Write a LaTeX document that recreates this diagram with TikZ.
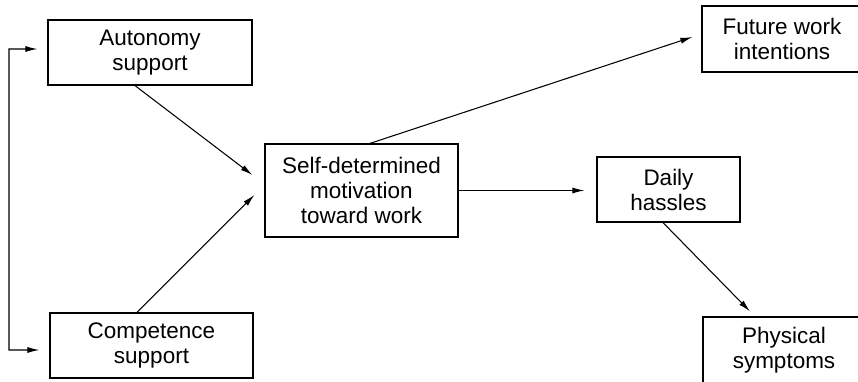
\documentclass[tikz,border=0pt]{standalone}
\usepackage{fontspec}
\setmainfont{Liberation Sans}
\usetikzlibrary{arrows.meta,positioning,calc}

\begin{document}
\begin{tikzpicture}[
    x=0.2mm, y=-0.2mm,
    box/.style={rectangle, draw, line width=0.7pt, minimum height=13mm, align=center, font=\fontsize{12.8}{14.2}\selectfont, inner sep=0pt},
    arr/.style={-{Latex[length=2.4mm,width=1.2mm]}, line width=0.6pt},
]
    \useasboundingbox (0,0) rectangle (858,382);
    \clip (0,0) rectangle (858,382);
    \node[box, minimum width=40.8mm] (auto) at (150,52.5) {Autonomy\\support};
    \node[box, minimum width=40.6mm] (comp) at (151.5,345.5) {Competence\\support};
    \node[box, minimum width=38.6mm, minimum height=18.6mm] (sdm) at (361.5,190.5) {Self-determined\\motivation\\toward work};
    \node[box, minimum width=28.6mm] (daily) at (668.5,189.5) {Daily\\hassles};
    \node[box, minimum width=32mm, minimum height=13.2mm] (future) at (782,39) {Future work\\intentions};
    \node[box, minimum width=32.4mm, minimum height=13.2mm] (phys) at (784,350) {Physical\\symptoms};
    % free ends of the bracket on the left
    \coordinate (lt) at (9,49);
    \coordinate (lb) at (9,350);
    \draw[arr, {Latex[length=2.4mm,width=1.2mm]}-{Latex[length=2.4mm,width=1.2mm]}] ($(auto.west)+(-10,-3.5)$) -- (lt) -- (lb) -- ($(comp.west)+(-10,4.5)$);
    \draw[arr] ($(auto.south)+(-15,0)$) -- ($(sdm.west)+(-12,-15.5)$);
    \draw[arr] ($(comp.north)+(-14.5,0)$) -- ($(sdm.west)+(-10,4.5)$);
    \draw[arr] ($(sdm.north)+(8.5,0)$) -- ($(future.west)+(-9,-2)$);
    \draw[arr, shorten >=2.4mm] (sdm.east) -- (sdm.east -| daily.west);
    \draw[arr] ($(daily.south)+(-5.5,0)$) -- ($(phys.north)+(-34,-5)$);
\end{tikzpicture}
\end{document}
